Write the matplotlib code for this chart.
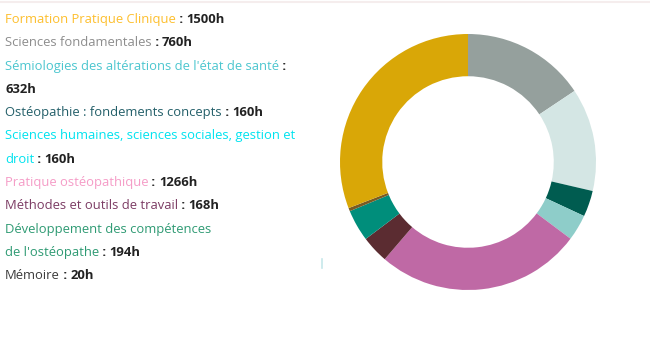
import matplotlib
matplotlib.use("Agg")
import matplotlib.pyplot as plt

# hours per teaching block, in drawing order (clockwise from the top)
wedge_labels = ["Sciences fondamentales", "Sémiologies", "Ostéopathie", "Sciences humaines",
                "Pratique ostéopathique", "Méthodes", "Développement", "Mémoire",
                "Formation Pratique Clinique"]
wedge_hours = [760, 632, 160, 160, 1266, 168, 194, 20, 1500]
wedge_colors = ["#95a09d", "#d4e6e4", "#005c50", "#8ecdc9", "#bf69a5",
                "#5b2c31", "#008e7b", "#7a5b22", "#d9a707"]

# legend lines: (coloured label, label colour, value shown in bold or None)
legend_lines = [
    ("Formation Pratique Clinique", "#fdbf2d", "1500h"),
    ("Sciences fondamentales", "#8d8d8d", "760h"),
    ("Sémiologies des altérations de l'état de santé", "#4cc6cf", ""),
    ("", "#222222", "632h"),
    ("Ostéopathie : fondements concepts", "#235f69", "160h"),
    ("Sciences humaines, sciences sociales, gestion et", "#00e3ef", None),
    ("droit", "#00e3ef", "160h"),
    ("Pratique ostéopathique", "#f59cc7", "1266h"),
    ("Méthodes et outils de travail", "#7c3c64", "168h"),
    ("Développement des compétences", "#2e9a73", None),
    ("de l'ostéopathe", "#2e9a73", "194h"),
    ("Mémoire", "#3b3b3b", "20h"),
]

W, H = 650, 343
fig = plt.figure(figsize=(W / 100, H / 100), dpi=100)
plt.rcParams["font.family"] = ["Open Sans", "DejaVu Sans"]

# faint top rule
fig.add_artist(plt.Line2D([0, 1], [1 - 1.5 / H, 1 - 1.5 / H], color="#f5eded", lw=1.5))

# donut
cx, cy, r = 468, 162, 128
ax = fig.add_axes([(cx - r) / W, (H - cy - r) / H, 2 * r / W, 2 * r / H])
ax.pie(wedge_hours, colors=wedge_colors, startangle=90, counterclock=False,
       radius=1, wedgeprops=dict(width=0.33, linewidth=0))
ax.set_xlim(-1, 1)
ax.set_ylim(-1, 1)
ax.set_aspect("equal")
ax.axis("off")

# small stray mark left of the ring
fig.add_artist(plt.Line2D([321.5 / W, 321.5 / W], [1 - 259 / H, 1 - 268 / H],
                          color="#c6e8ea", lw=1.2))

renderer = fig.canvas.get_renderer()
fs = 9.4
x0 = 5
base = 23
step = 23.3

for i, (label, col, value) in enumerate(legend_lines):
    y = 1 - (base + i * step) / H
    x = x0
    pieces = []
    if label:
        pieces.append((label, col, "normal"))
    if value is not None:
        if label:
            pieces.append((" : ", "#222222", "bold"))
        if value:
            pieces.append((value, "#222222", "bold"))
    for txt, c, w in pieces:
        t = fig.text(x / W, y, txt, color=c, fontsize=fs, fontweight=w,
                     ha="left", va="baseline")
        bb = t.get_window_extent(renderer)
        x += bb.width

fig.savefig("out.png", dpi=100, facecolor="white")
